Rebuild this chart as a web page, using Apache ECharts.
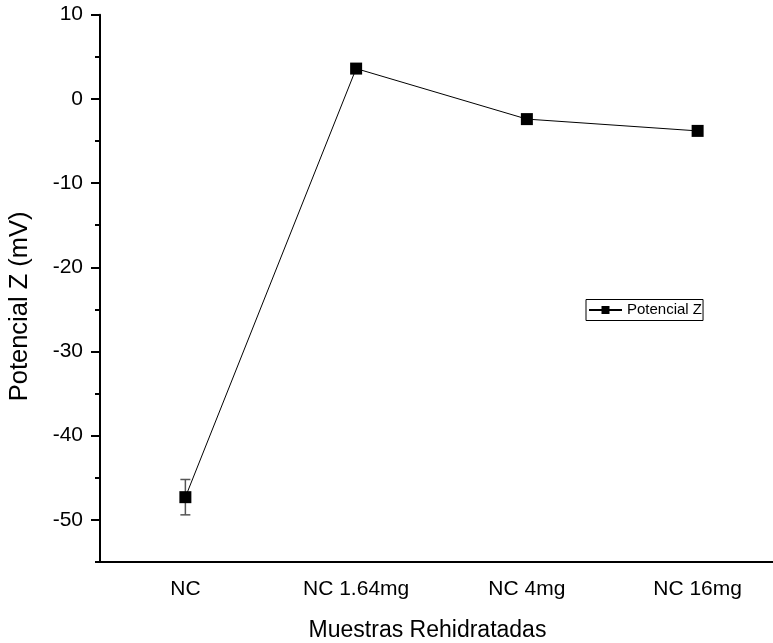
<!DOCTYPE html>
<html>
<head>
<meta charset="utf-8">
<script src="https://cdn.jsdelivr.net/npm/echarts@6/dist/echarts.min.js"></script>
<style>html,body{margin:0;padding:0;background:#fff}#c{width:773px;height:643px}</style>
</head>
<body>
<div id="c"></div>
<script>
var categories = ['NC', 'NC 1.64mg', 'NC 4mg', 'NC 16mg'];
var potencialZ = [-47.3, 3.6, -2.4, -3.8];
var errorLow = [-49.4, null, null, null];
var errorHigh = [-45.2, null, null, null];
var yMajorTicks = [-50, -40, -30, -20, -10, 0, 10];
var yMinorTicks = [-55, -45, -35, -25, -15, -5, 5];

var font = 'Liberation Sans, Arial, sans-serif';
var errData = [];
for (var i = 0; i < categories.length; i++) {
  if (errorLow[i] != null) errData.push([i, errorLow[i], errorHigh[i]]);
}

var chart = echarts.init(document.getElementById('c'));
chart.setOption({
  animation: false,
  textStyle: { fontFamily: font },
  grid: { left: 100, top: 14.7, bottom: 81, right: -10, containLabel: false, outerBoundsMode: 'none' },
  legend: {
    data: ['Potencial Z'],
    left: 586, top: 299.5,
    orient: 'vertical',
    borderColor: '#000', borderWidth: 1, borderRadius: 0,
    padding: [3, 1, 3, 2],
    itemWidth: 33, itemHeight: 10,
    itemGap: 0,
    textStyle: { fontSize: 15, color: '#000', fontFamily: font }
  },
  xAxis: [{
    type: 'category',
    data: categories,
    boundaryGap: true,
    name: 'Muestras Rehidratadas',
    nameLocation: 'middle',
    nameGap: 57,
    nameTextStyle: { fontSize: 23, color: '#000', fontFamily: font, padding: [0, 28, 0, 0] },
    axisLine: { onZero: false, lineStyle: { color: '#000', width: 2 } },
    axisTick: { alignWithLabel: true, length: 9, inside: false, lineStyle: { color: '#000', width: 2 } },
    axisLabel: { fontSize: 21, color: '#000', margin: 17, fontFamily: font },
    splitLine: { show: false }
  }, {
    type: 'category',
    data: categories,
    boundaryGap: true,
    position: 'bottom',
    axisLine: { show: false, onZero: false },
    axisTick: { alignWithLabel: false, length: 5, lineStyle: { color: '#000', width: 2 } },
    axisLabel: { show: false },
    splitLine: { show: false }
  }],
  yAxis: [{
    type: 'value',
    min: -55, max: 10,
    name: 'Potencial Z (mV)',
    nameLocation: 'middle',
    nameGap: 67,
    nameRotate: 90,
    nameTextStyle: { fontSize: 25.5, color: '#000', fontFamily: font, padding: [0, 36, 0, 0] },
    axisLine: { show: true, onZero: false, lineStyle: { color: '#000', width: 2 } },
    axisTick: { show: true, length: 9, customValues: yMajorTicks, lineStyle: { color: '#000', width: 2 } },
    axisLabel: { fontSize: 21, color: '#000', margin: 17, customValues: yMajorTicks, fontFamily: font },
    splitLine: { show: false }
  }, {
    type: 'value',
    min: -55, max: 10,
    position: 'left',
    axisLine: { show: false, onZero: false },
    axisTick: { show: true, length: 5, customValues: yMinorTicks, lineStyle: { color: '#000', width: 2 } },
    axisLabel: { show: false },
    splitLine: { show: false }
  }],
  series: [{
    name: 'Potencial Z',
    type: 'line',
    data: potencialZ,
    symbol: 'rect',
    symbolSize: 12,
    itemStyle: { color: '#000' },
    lineStyle: { color: '#000', width: 1 },
    z: 3
  }, {
    name: 'err',
    type: 'custom',
    data: errData,
    z: 2,
    renderItem: function (params, api) {
      var x = api.value(0);
      var lo = api.coord([x, api.value(1)]);
      var hi = api.coord([x, api.value(2)]);
      var hw = 5;
      var st = { stroke: '#555', lineWidth: 1.5 };
      return {
        type: 'group',
        children: [
          { type: 'line', shape: { x1: lo[0], y1: lo[1], x2: hi[0], y2: hi[1] }, style: st },
          { type: 'line', shape: { x1: lo[0] - hw, y1: lo[1], x2: lo[0] + hw, y2: lo[1] }, style: st },
          { type: 'line', shape: { x1: hi[0] - hw, y1: hi[1], x2: hi[0] + hw, y2: hi[1] }, style: st }
        ]
      };
    }
  }]
});
</script>
</body>
</html>
